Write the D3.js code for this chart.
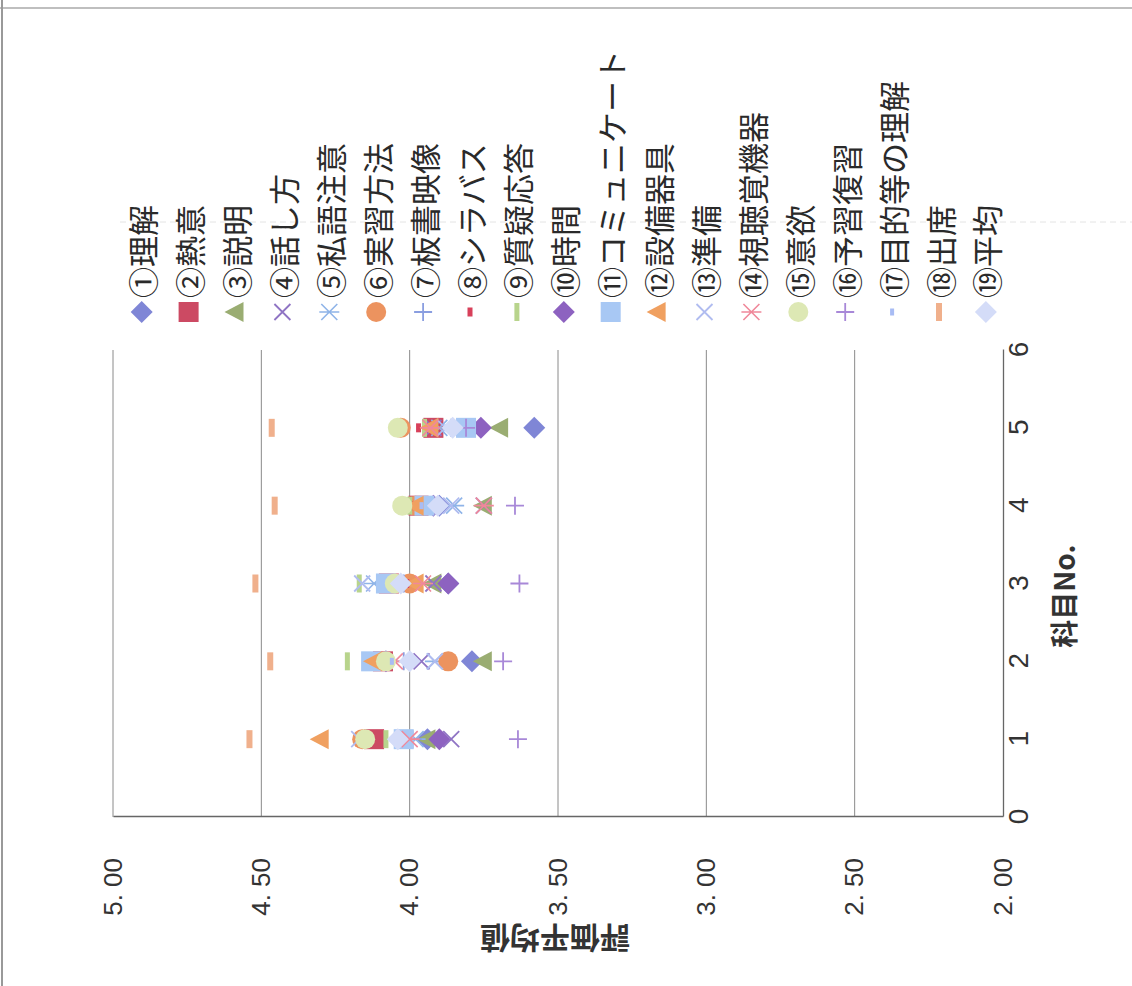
<!DOCTYPE html>
<html><head><meta charset="utf-8">
<script src="https://cdn.jsdelivr.net/npm/d3@7"></script>
<style>body{margin:0;background:#fff}svg{display:block}</style>
</head><body>
<svg id="c" width="1132" height="986"></svg>
<script>
// ---- data ----
const subjects = [1, 2, 3, 4, 5];
const xTicks = [0, 1, 2, 3, 4, 5, 6];
const yTicks = [2.0, 2.5, 3.0, 3.5, 4.0, 4.5, 5.0];
const seriesNames = ["①理解","②熱意","③説明","④話し方","⑤私語注意","⑥実習方法","⑦板書映像","⑧シラバス","⑨質疑応答","⑩時間","⑪コミュニケート","⑫設備器具","⑬準備","⑭視聴覚機器","⑮意欲","⑯予習復習","⑰目的等の理解","⑱出席","⑲平均"];
const v01 = [3.94, 3.79, 3.87, 3.90, 3.58];
const v02 = [4.12, 4.09, 4.07, 3.97, 3.92];
const v03 = [3.94, 3.75, 3.92, 3.75, 3.695];
const v04 = [3.86, 3.96, 3.92, 3.75, 3.92];
const v05 = [3.98, 3.915, 4.12, 3.85, 3.90];
const v06 = [4.16, 3.87, 4.00, 3.98, 4.03];
const v07 = [3.99, 4.02, 4.02, 3.95, 3.86];
const v08 = [4.05, 4.10, 4.01, 3.99, 3.97];
const v09 = [4.08, 4.21, 4.17, 4.00, 3.95];
const v10 = [3.90, 4.08, 3.87, 3.92, 3.76];
const v11 = [4.02, 4.13, 4.08, 3.95, 3.81];
const v12 = [4.30, 4.12, 3.98, 3.98, 3.93];
const v13 = [4.17, 3.915, 4.16, 3.86, 3.88];
const v14 = [4.00, 4.05, 3.955, 3.75, 3.93];
const v15 = [4.15, 4.08, 4.05, 4.025, 4.04];
const v16 = [3.635, 3.685, 3.63, 3.645, 3.81];
const v17 = [4.03, 4.06, 4.04, 3.96, 3.88];
const v18 = [4.54, 4.47, 4.52, 4.455, 4.465];
const v19 = [4.04, 4.00, 4.03, 3.905, 3.855];
const seriesValues = [v01,v02,v03,v04,v05,v06,v07,v08,v09,v10,v11,v12,v13,v14,v15,v16,v17,v18,v19];

// ---- styles ----
const markerTypes = ["diamond","square","triangle","x","star","circle","plus","dashS","dashL","diamond","square","triangle","x","star","circle","plus","dashXS","dashL2","diamond"];
const colors = ["#7f86d6","#cc4a63","#9aad72","#8f74c4","#8fb4e8","#ec935f","#8a9ee0","#d8405a","#b8d48c","#8d62c0","#a8c8f4","#f0a060","#b0bcf0","#f0889a","#dde8b4","#a888d8","#a8bcf4","#f0b08c","#d4dcf8"];

const W = 1132, H = 986;
const svg = d3.select("#c");

// frame (scan)
svg.append("line").attr("x1",0).attr("x2",W).attr("y1",8).attr("y2",8).attr("stroke","#aaa").attr("stroke-width",1.5);
svg.append("line").attr("x1",2).attr("x2",2).attr("y1",0).attr("y2",H).attr("stroke","#999").attr("stroke-width",2);
svg.append("line").attr("x1",120).attr("x2",W).attr("y1",222).attr("y2",222).attr("stroke","#e4e4e4").attr("stroke-width",1).attr("stroke-dasharray","6,4");

// chart drawn in its original orientation, rotated 90° CCW
const g = svg.append("g").attr("transform", `translate(0,${H}) rotate(-90)`);

const x = d3.scaleLinear().domain([0, 6]).range([169, 636]);
const y = d3.scaleLinear().domain([2, 5]).range([1003, 113]);

// gridlines
g.append("g").selectAll("line").data(yTicks.filter(d => d > 2)).join("line")
  .attr("x1", x(0)).attr("x2", x(6))
  .attr("y1", d => y(d)).attr("y2", d => y(d))
  .attr("stroke", "#8a8a8a").attr("stroke-width", 1);

// y axis (value)
const yAxis = d3.axisLeft(y).tickValues(yTicks).tickSize(0).tickPadding(41)
  .tickFormat(d => d3.format(".2f")(d).replace(".", ". "));
const ya = g.append("g").attr("transform", `translate(${x(0)},0)`).call(yAxis);
ya.select(".domain").attr("stroke", "#666").attr("stroke-width", 1.3);
ya.selectAll("text").attr("font-family", "'Liberation Sans', Arial, sans-serif").attr("font-size", 26).attr("fill", "#333")
  .style("white-space", "pre");

// x axis (subject)
const xAxis = d3.axisBottom(x).tickValues(xTicks).tickSize(0).tickPadding(5).tickFormat(d3.format("d"));
const xa = g.append("g").attr("transform", `translate(0,${y(2)})`).call(xAxis);
xa.select(".domain").attr("stroke", "#666").attr("stroke-width", 1.3);
xa.selectAll("text").attr("font-family", "'Liberation Sans', Arial, sans-serif").attr("font-size", 28).attr("fill", "#333");

// axis titles
g.append("text").attr("transform", `translate(46,555) rotate(-90)`)
  .attr("text-anchor", "middle").attr("dominant-baseline", "central")
  .attr("font-family", "'Noto Sans CJK JP', sans-serif").attr("font-weight", "bold").attr("font-size", 30).attr("fill", "#333")
  .text("評価平均値");
g.append("text").attr("x", 390).attr("y", 1063)
  .attr("text-anchor", "middle").attr("dominant-baseline", "central")
  .attr("font-family", "'Noto Sans CJK JP', sans-serif").attr("font-weight", "bold").attr("font-size", 28).attr("fill", "#333")
  .text("科目No.");

// marker drawing
function drawMarker(sel, type, color) {
  switch (type) {
    case "diamond": sel.append("path").attr("d", "M0,-11L11,0L0,11L-11,0Z").attr("fill", color); break;
    case "square": sel.append("rect").attr("x", -10).attr("y", -10).attr("width", 20).attr("height", 20).attr("fill", color); break;
    case "triangle": sel.append("path").attr("d", "M0,-11L10,8L-10,8Z").attr("fill", color); break;
    case "circle": sel.append("circle").attr("r", 10).attr("fill", color); break;
    case "x":
      sel.append("path").attr("d", "M-8,-8L8,8M-8,8L8,-8").attr("stroke", color).attr("stroke-width", 1.8).attr("fill", "none"); break;
    case "star":
      sel.append("path").attr("d", "M-8,-8L8,8M-8,8L8,-8M0,-10L0,10").attr("stroke", color).attr("stroke-width", 1.6).attr("fill", "none"); break;
    case "plus":
      sel.append("path").attr("d", "M-9,0L9,0M0,-9L0,9").attr("stroke", color).attr("stroke-width", 1.8).attr("fill", "none"); break;
    case "dashS": sel.append("rect").attr("x", -4.5).attr("y", -2.5).attr("width", 9).attr("height", 5).attr("fill", color); break;
    case "dashL": sel.append("rect").attr("x", -9).attr("y", -2.5).attr("width", 18).attr("height", 5).attr("fill", color); break;
    case "dashXS": sel.append("rect").attr("x", -3.5).attr("y", -2).attr("width", 7).attr("height", 4).attr("fill", color); break;
    case "dashL2": sel.append("rect").attr("x", -9).attr("y", -3).attr("width", 18).attr("height", 6).attr("fill", color); break;
  }
}

// data points
seriesValues.forEach((vals, i) => {
  const sg = g.append("g").attr("class", "series");
  vals.forEach((v, j) => {
    const m = sg.append("g").attr("transform", `translate(${x(subjects[j])},${y(v)})`);
    drawMarker(m, markerTypes[i], colors[i]);
  });
});

// legend
const legendStart = 141.7, legendStep = 46.9;
seriesNames.forEach((name, i) => {
  const lv = legendStart + i * legendStep;
  const m = g.append("g").attr("transform", `translate(674,${lv})`);
  drawMarker(m, markerTypes[i], colors[i]);
  g.append("text").attr("x", 688).attr("y", lv)
    .attr("dominant-baseline", "central")
    .attr("font-family", "'Noto Sans CJK JP', sans-serif").attr("font-size", 31).attr("fill", "#2a2a2a")
    .text(name);
});
</script>
</body></html>
